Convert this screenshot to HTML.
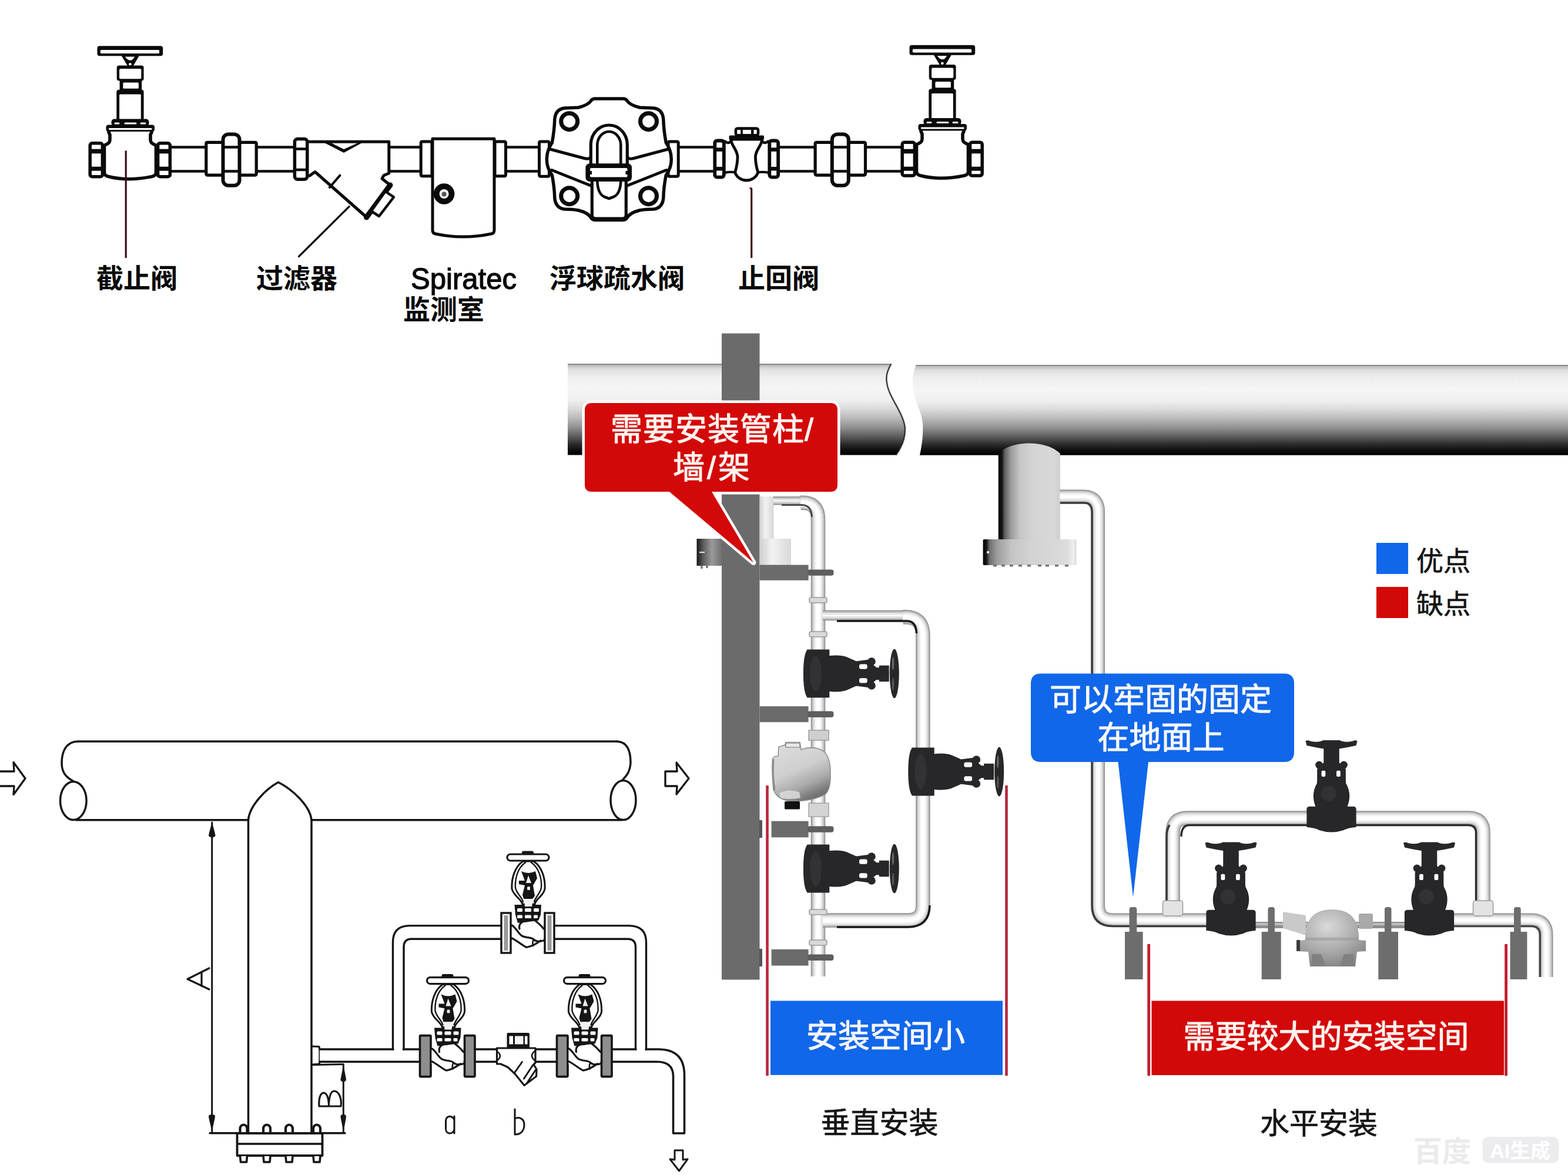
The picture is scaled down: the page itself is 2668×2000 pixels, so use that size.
<!DOCTYPE html>
<html><head><meta charset="utf-8"><title>diagram</title>
<style>
html,body{margin:0;padding:0;background:#fff;}
body{width:2668px;height:2000px;overflow:hidden;font-family:"Liberation Sans",sans-serif;}
svg{display:block;}
</style></head><body>
<svg width="2668" height="2000" viewBox="0 0 2668 2000">
<defs>
<linearGradient id="gBig" x1="0" y1="0" x2="0" y2="1">
<stop offset="0" stop-color="#5a5a5a"/><stop offset="0.015" stop-color="#bdbdbd"/><stop offset="0.06" stop-color="#e0e0e0"/><stop offset="0.14" stop-color="#eeeeee"/><stop offset="0.27" stop-color="#f5f5f5"/><stop offset="0.40" stop-color="#efefef"/><stop offset="0.50" stop-color="#d8d8d8"/><stop offset="0.60" stop-color="#b8b8b8"/><stop offset="0.70" stop-color="#8f8f8f"/><stop offset="0.80" stop-color="#5a5a5a"/><stop offset="0.88" stop-color="#2c2c2c"/><stop offset="0.95" stop-color="#0c0c0c"/><stop offset="1" stop-color="#000"/>
</linearGradient>
<linearGradient id="gV" x1="0" y1="0" x2="1" y2="0">
<stop offset="0" stop-color="#b9b9b9"/><stop offset="0.25" stop-color="#f4f4f4"/><stop offset="0.55" stop-color="#ffffff"/><stop offset="0.8" stop-color="#d0d0d0"/><stop offset="1" stop-color="#8c8c8c"/>
</linearGradient>
<linearGradient id="gH" x1="0" y1="0" x2="0" y2="1">
<stop offset="0" stop-color="#c4c4c4"/><stop offset="0.25" stop-color="#f6f6f6"/><stop offset="0.5" stop-color="#ffffff"/><stop offset="0.75" stop-color="#cfcfcf"/><stop offset="1" stop-color="#6e6e6e"/>
</linearGradient>
<linearGradient id="gLeg" x1="0" y1="0" x2="1" y2="0">
<stop offset="0" stop-color="#000"/><stop offset="0.06" stop-color="#161616"/><stop offset="0.1" stop-color="#5e5e5e"/><stop offset="0.2" stop-color="#9a9a9a"/><stop offset="0.35" stop-color="#c6c6c6"/><stop offset="0.55" stop-color="#d4d4d4"/><stop offset="0.9" stop-color="#d8d8d8"/><stop offset="1" stop-color="#cfcfcf"/>
</linearGradient>
<linearGradient id="gFl" x1="0" y1="0" x2="1" y2="0">
<stop offset="0" stop-color="#000"/><stop offset="0.04" stop-color="#1a1a1a"/><stop offset="0.07" stop-color="#6e6e6e"/><stop offset="0.15" stop-color="#9c9c9c"/><stop offset="0.3" stop-color="#c4c4c4"/><stop offset="0.5" stop-color="#d2d2d2"/><stop offset="0.9" stop-color="#dcdcdc"/><stop offset="0.97" stop-color="#efefef"/><stop offset="1" stop-color="#d8d8d8"/>
</linearGradient>
<linearGradient id="gPocket" x1="0" y1="0" x2="1" y2="0">
<stop offset="0" stop-color="#cfcfcf"/><stop offset="0.4" stop-color="#f2f2f2"/><stop offset="1" stop-color="#d8d8d8"/>
</linearGradient>
<linearGradient id="gCollar" x1="0" y1="0" x2="1" y2="0">
<stop offset="0" stop-color="#161616"/><stop offset="0.25" stop-color="#5a5a5a"/><stop offset="0.6" stop-color="#9a9a9a"/><stop offset="1" stop-color="#6f6f6f"/>
</linearGradient>
<radialGradient id="gTrap" cx="0.55" cy="0.4" r="0.7">
<stop offset="0" stop-color="#f0f0f0"/><stop offset="0.6" stop-color="#c9c9c9"/><stop offset="1" stop-color="#8e8e8e"/>
</radialGradient>
<linearGradient id="gTrapV" x1="0.25" y1="0" x2="0.7" y2="1">
<stop offset="0" stop-color="#dcdcdc"/><stop offset="0.45" stop-color="#cfcfcf"/><stop offset="0.72" stop-color="#a9a9a9"/><stop offset="0.9" stop-color="#7b7b7b"/><stop offset="1" stop-color="#6a6a6a"/>
</linearGradient>
<radialGradient id="gTrap2" cx="0.45" cy="0.3" r="0.8">
<stop offset="0" stop-color="#dadada"/><stop offset="0.6" stop-color="#a4a4a4"/><stop offset="1" stop-color="#7c7c7c"/>
</radialGradient>
<filter id="soft" x="-5%" y="-5%" width="110%" height="110%"><feGaussianBlur stdDeviation="0.7"/></filter>
<filter id="soft2" x="-5%" y="-5%" width="110%" height="110%"><feGaussianBlur stdDeviation="1.2"/></filter>
</defs>
<rect width="2668" height="2000" fill="#fff"/>
<g id="top">
<line x1="290.0" y1="250.5" x2="350.0" y2="250.5" stroke="#0a0a0a" stroke-width="4.6" stroke-linecap="butt"/>
<line x1="290.0" y1="291.5" x2="350.0" y2="291.5" stroke="#0a0a0a" stroke-width="4.6" stroke-linecap="butt"/>
<line x1="436.0" y1="250.5" x2="501.0" y2="250.5" stroke="#0a0a0a" stroke-width="4.6" stroke-linecap="butt"/>
<line x1="436.0" y1="291.5" x2="501.0" y2="291.5" stroke="#0a0a0a" stroke-width="4.6" stroke-linecap="butt"/>
<line x1="660.0" y1="250.5" x2="716.0" y2="250.5" stroke="#0a0a0a" stroke-width="4.6" stroke-linecap="butt"/>
<line x1="660.0" y1="291.5" x2="716.0" y2="291.5" stroke="#0a0a0a" stroke-width="4.6" stroke-linecap="butt"/>
<line x1="861.0" y1="250.5" x2="917.0" y2="250.5" stroke="#0a0a0a" stroke-width="4.6" stroke-linecap="butt"/>
<line x1="861.0" y1="291.5" x2="917.0" y2="291.5" stroke="#0a0a0a" stroke-width="4.6" stroke-linecap="butt"/>
<line x1="1155.0" y1="250.5" x2="1216.0" y2="250.5" stroke="#0a0a0a" stroke-width="4.6" stroke-linecap="butt"/>
<line x1="1155.0" y1="291.5" x2="1216.0" y2="291.5" stroke="#0a0a0a" stroke-width="4.6" stroke-linecap="butt"/>
<line x1="1325.0" y1="250.5" x2="1388.0" y2="250.5" stroke="#0a0a0a" stroke-width="4.6" stroke-linecap="butt"/>
<line x1="1325.0" y1="291.5" x2="1388.0" y2="291.5" stroke="#0a0a0a" stroke-width="4.6" stroke-linecap="butt"/>
<line x1="1472.0" y1="250.5" x2="1535.0" y2="250.5" stroke="#0a0a0a" stroke-width="4.6" stroke-linecap="butt"/>
<line x1="1472.0" y1="291.5" x2="1535.0" y2="291.5" stroke="#0a0a0a" stroke-width="4.6" stroke-linecap="butt"/>
<rect x="165.5" y="78.3" width="111.7" height="16.9" rx="4" fill="#0a0a0a"/>
<rect x="170.8" y="85.1" width="100.3" height="5.8" rx="1.5" fill="#fff"/>
<path d="M206.5,94.5 L237.1,94.5 L226.5,112.5 L217.3,112.5 Z" fill="#0a0a0a"/>
<path d="M212.7,96.6 L229.2,96.6 Q226.5,101 224.1,102.6 L219.5,102.6 Q215.5,101 212.7,96.6 Z" fill="#fff"/>
<circle cx="221.4" cy="109.2" r="2.3" fill="#fff"/>
<rect x="198.7" y="111.6" width="45.9" height="25.8" rx="4" fill="#0a0a0a"/>
<rect x="203.1" y="117.0" width="37.2" height="17.3" rx="2" fill="#fff"/>
<rect x="203.6" y="136.0" width="37.6" height="24.6" rx="1" fill="#0a0a0a"/>
<rect x="209.4" y="140.6" width="26.5" height="10.1" rx="1.5" fill="#fff"/>
<rect x="198.3" y="152.7" width="46.3" height="52.3" rx="4" fill="#0a0a0a"/>
<rect x="203.1" y="160.4" width="36.7" height="43.4" rx="1.5" fill="#fff"/>
<rect x="189.5" y="202.5" width="64.0" height="12.0" rx="5" fill="#0a0a0a"/>
<rect x="194.5" y="208.6" width="9.0" height="3.0" rx="1.5" fill="#fff"/>
<rect x="211.5" y="208.6" width="21.0" height="3.0" rx="1.5" fill="#fff"/>
<rect x="238.5" y="208.6" width="10.0" height="3.0" rx="1.5" fill="#fff"/>
<rect x="180.5" y="212.5" width="82.5" height="11.5" rx="4" fill="#0a0a0a"/>
<rect x="185.0" y="218.0" width="73.5" height="3.0" rx="1" fill="#fff"/>
<path d="M185.0,225 L187.0,229.5 L187.0,238 C187.0,244.5 181.5,245 177.5,247.5 L177.5,294 Q178.0,299 184.5,300.5 Q217.5,309 258.5,300.5 Q265.0,299 265.5,294 L265.5,247.5 C261.5,245 256.0,244.5 256.0,238 L256.0,229.5 L258.0,225" fill="#fff" stroke="#0a0a0a" stroke-width="5.6" stroke-linejoin="round" stroke-linecap="round" />
<rect x="153.2" y="243.8" width="21.2" height="56.9" rx="3.5" fill="#fff" stroke="#0a0a0a" stroke-width="5.5"/>
<line x1="153.5" y1="257.5" x2="174.2" y2="257.5" stroke="#0a0a0a" stroke-width="7.6" stroke-linecap="butt"/>
<line x1="153.5" y1="287.2" x2="174.2" y2="287.2" stroke="#0a0a0a" stroke-width="7" stroke-linecap="butt"/>
<rect x="268.6" y="243.8" width="20.7" height="56.9" rx="3.5" fill="#fff" stroke="#0a0a0a" stroke-width="5.5"/>
<line x1="268.8" y1="257.5" x2="289.0" y2="257.5" stroke="#0a0a0a" stroke-width="7.6" stroke-linecap="butt"/>
<line x1="268.8" y1="287.2" x2="289.0" y2="287.2" stroke="#0a0a0a" stroke-width="7" stroke-linecap="butt"/>
<rect x="1547.5" y="76.8" width="111.7" height="16.9" rx="4" fill="#0a0a0a"/>
<rect x="1552.8" y="83.6" width="100.3" height="5.8" rx="1.5" fill="#fff"/>
<path d="M1588.5,93.0 L1619.1,93.0 L1608.5,111.0 L1599.3,111.0 Z" fill="#0a0a0a"/>
<path d="M1594.7,95.1 L1611.2,95.1 Q1608.5,99.5 1606.1,101.1 L1601.5,101.1 Q1597.5,99.5 1594.7,95.1 Z" fill="#fff"/>
<circle cx="1603.4" cy="107.7" r="2.3" fill="#fff"/>
<rect x="1580.7" y="110.1" width="45.9" height="25.8" rx="4" fill="#0a0a0a"/>
<rect x="1585.1" y="115.5" width="37.2" height="17.3" rx="2" fill="#fff"/>
<rect x="1585.6" y="134.5" width="37.6" height="24.6" rx="1" fill="#0a0a0a"/>
<rect x="1591.4" y="139.1" width="26.5" height="10.1" rx="1.5" fill="#fff"/>
<rect x="1580.3" y="151.2" width="46.3" height="52.3" rx="4" fill="#0a0a0a"/>
<rect x="1585.1" y="158.9" width="36.7" height="43.4" rx="1.5" fill="#fff"/>
<rect x="1571.5" y="201.0" width="64.0" height="12.0" rx="5" fill="#0a0a0a"/>
<rect x="1576.5" y="207.1" width="9.0" height="3.0" rx="1.5" fill="#fff"/>
<rect x="1593.5" y="207.1" width="21.0" height="3.0" rx="1.5" fill="#fff"/>
<rect x="1620.5" y="207.1" width="10.0" height="3.0" rx="1.5" fill="#fff"/>
<rect x="1562.5" y="211.0" width="82.5" height="11.5" rx="4" fill="#0a0a0a"/>
<rect x="1567.0" y="216.5" width="73.5" height="3.0" rx="1" fill="#fff"/>
<path d="M1567.0,223.5 L1569.0,228.0 L1569.0,236.5 C1569.0,243.0 1563.5,243.5 1559.5,246.0 L1559.5,292.5 Q1560.0,297.5 1566.5,299.0 Q1599.5,307.5 1640.5,299.0 Q1647.0,297.5 1647.5,292.5 L1647.5,246.0 C1643.5,243.5 1638.0,243.0 1638.0,236.5 L1638.0,228.0 L1640.0,223.5" fill="#fff" stroke="#0a0a0a" stroke-width="5.6" stroke-linejoin="round" stroke-linecap="round" />
<rect x="1535.2" y="242.2" width="21.2" height="56.9" rx="3.5" fill="#fff" stroke="#0a0a0a" stroke-width="5.5"/>
<line x1="1535.5" y1="257.5" x2="1556.2" y2="257.5" stroke="#0a0a0a" stroke-width="7.6" stroke-linecap="butt"/>
<line x1="1535.5" y1="287.2" x2="1556.2" y2="287.2" stroke="#0a0a0a" stroke-width="7" stroke-linecap="butt"/>
<rect x="1650.5" y="242.2" width="20.7" height="56.9" rx="3.5" fill="#fff" stroke="#0a0a0a" stroke-width="5.5"/>
<line x1="1650.8" y1="257.5" x2="1671.0" y2="257.5" stroke="#0a0a0a" stroke-width="7.6" stroke-linecap="butt"/>
<line x1="1650.8" y1="287.2" x2="1671.0" y2="287.2" stroke="#0a0a0a" stroke-width="7" stroke-linecap="butt"/>
<rect x="350.8" y="242.3" width="85.4" height="55.8" rx="2" fill="#fff" stroke="#0a0a0a" stroke-width="5.2"/>
<rect x="379.5" y="228.6" width="28.0" height="87.2" rx="9" fill="#fff" stroke="#0a0a0a" stroke-width="6"/>
<line x1="379.5" y1="250.5" x2="407.5" y2="250.5" stroke="#0a0a0a" stroke-width="4.6" stroke-linecap="butt"/>
<line x1="379.5" y1="291.5" x2="407.5" y2="291.5" stroke="#0a0a0a" stroke-width="4.6" stroke-linecap="butt"/>
<rect x="1387.1" y="242.3" width="85.4" height="55.8" rx="2" fill="#fff" stroke="#0a0a0a" stroke-width="5.2"/>
<rect x="1415.8" y="228.6" width="28.0" height="87.2" rx="9" fill="#fff" stroke="#0a0a0a" stroke-width="6"/>
<line x1="1415.8" y1="250.5" x2="1443.8" y2="250.5" stroke="#0a0a0a" stroke-width="4.6" stroke-linecap="butt"/>
<line x1="1415.8" y1="291.5" x2="1443.8" y2="291.5" stroke="#0a0a0a" stroke-width="4.6" stroke-linecap="butt"/>
<rect x="501.4" y="236.6" width="21.4" height="68.6" rx="5" fill="#fff" stroke="#0a0a0a" stroke-width="5.5"/>
<line x1="501.0" y1="253.5" x2="523.0" y2="253.5" stroke="#0a0a0a" stroke-width="4.5" stroke-linecap="butt"/>
<line x1="501.0" y1="289.0" x2="523.0" y2="289.0" stroke="#0a0a0a" stroke-width="4.5" stroke-linecap="butt"/>
<path d="M525.6,241.2 L661.8,241.2 L661.8,295 L653,298.5 L650,304 L665,316 L624,370 L536,292.5 L527,299" fill="#fff" stroke="#0a0a0a" stroke-width="5" stroke-linejoin="round" stroke-linecap="round" />
<path d="M664,315 L623.5,370" fill="none" stroke="#0a0a0a" stroke-width="9" stroke-linejoin="round" stroke-linecap="round" />
<path d="M657.5,327 L670,335.5 L645,368 L633.5,360.5" fill="#fff" stroke="#0a0a0a" stroke-width="4.5" stroke-linejoin="round" stroke-linecap="round" />
<path d="M549,241.5 L585,260 L619,241.5 L608.5,243.5 L585,254 L564,243.5 Z" fill="#0a0a0a"/>
<line x1="578.4" y1="298.6" x2="560.8" y2="319.0" stroke="#0a0a0a" stroke-width="4" stroke-linecap="round"/>
<line x1="594.2" y1="351.5" x2="508.5" y2="436.5" stroke="#161012" stroke-width="3.2" stroke-linecap="round"/>
<rect x="716.2" y="240.9" width="18.8" height="58.9" rx="2" fill="#fff" stroke="#0a0a0a" stroke-width="5"/>
<rect x="842.0" y="240.9" width="18.5" height="58.9" rx="2" fill="#fff" stroke="#0a0a0a" stroke-width="5"/>
<path d="M736,236.3 L841,236.3 L841,392 Q841,397 836,398 Q788,408 741,398 Q736,397 736,392 Z" fill="#fff" stroke="#0a0a0a" stroke-width="5" stroke-linejoin="round" stroke-linecap="round" />
<circle cx="755.6" cy="330" r="17.8" fill="#0a0a0a"/><circle cx="755.6" cy="330" r="8" fill="#f4f4f4"/><circle cx="755.6" cy="330.5" r="4" fill="#555"/>
<rect x="917.5" y="241.0" width="17.0" height="59.3" rx="2" fill="#fff" stroke="#0a0a0a" stroke-width="5"/>
<rect x="1137.0" y="241.0" width="17.2" height="59.3" rx="2" fill="#fff" stroke="#0a0a0a" stroke-width="5"/>
<path d="M1012.3,168 L1060.3,168 Q1065.3,168 1067.3,172 Q1072.3,179 1088.3,183 Q1100.3,183.5 1112.3,184 Q1127.3,186 1128.8,203 Q1129.3,222 1133.3,243 Q1142.3,256 1142.3,271 Q1142.3,286 1133.3,298 Q1129.3,318 1128.8,337 Q1127.3,354 1112.3,356 Q1098.3,356 1088.3,358 Q1072.3,362 1067.3,370 Q1065.3,374.5 1060.3,374.5 L1012.3,374.5 Q1007.3,374.5 1005.3,370 Q1000.3,362 984.3,358 Q974.3,356 960.3,356 Q945.3,354 943.8,337 Q943.3,318 939.3,298 Q930.3,286 930.3,271 Q930.3,256 939.3,243 Q943.3,222 943.8,203 Q945.3,186 960.3,184 Q972.3,183.5 984.3,183 Q1000.3,179 1005.3,172 Q1007.3,168 1012.3,168 Z" fill="#fff" stroke="#0a0a0a" stroke-width="5.5" stroke-linejoin="round" stroke-linecap="round" />
<path d="M936.3,254 L994.3,269.5 Q1004.3,272 1005.3,266" fill="none" stroke="#0a0a0a" stroke-width="5" stroke-linejoin="round" stroke-linecap="round" />
<path d="M938.8,289.5 L1005.3,316" fill="none" stroke="#0a0a0a" stroke-width="5" stroke-linejoin="round" stroke-linecap="round" />
<path d="M1136.3,254 L1078.3,269.5 Q1068.3,272 1067.3,266" fill="none" stroke="#0a0a0a" stroke-width="5" stroke-linejoin="round" stroke-linecap="round" />
<path d="M1133.8,289.5 L1067.3,316" fill="none" stroke="#0a0a0a" stroke-width="5" stroke-linejoin="round" stroke-linecap="round" />
<circle cx="968.7" cy="206.7" r="14" fill="#fff" stroke="#0a0a0a" stroke-width="7"/>
<circle cx="1103.5" cy="206.7" r="14" fill="#fff" stroke="#0a0a0a" stroke-width="7"/>
<circle cx="968.7" cy="333.7" r="14" fill="#fff" stroke="#0a0a0a" stroke-width="7"/>
<circle cx="1103.5" cy="333.7" r="14" fill="#fff" stroke="#0a0a0a" stroke-width="7"/>
<path d="M1005.3,279 L1005.3,246 A31,33 0 0 1 1067.3,246 L1067.3,279" fill="#fff" stroke="#0a0a0a" stroke-width="5.2" stroke-linejoin="round" stroke-linecap="round" />
<path d="M1016.3,279 L1016.3,247 A20,23 0 0 1 1056.3,247 L1056.3,279" fill="#fff" stroke="#0a0a0a" stroke-width="4.6" stroke-linejoin="round" stroke-linecap="round" />
<path d="M1007.3,306 L1007.3,366 Q1007.3,372 1013.3,372 L1059.3,372 Q1065.3,372 1065.3,366 L1065.3,306" fill="#fff" stroke="#0a0a0a" stroke-width="5.2" stroke-linejoin="round" stroke-linecap="round" />
<path d="M1016.3,309 Q1017.3,330 1028.3,335 L1036.3,338 L1044.3,335 Q1055.3,330 1056.3,309" fill="none" stroke="#0a0a0a" stroke-width="4.6" stroke-linejoin="round" stroke-linecap="round" />
<rect x="999.4" y="281.3" width="72.6" height="24.7" rx="4" fill="#fff" stroke="#0a0a0a" stroke-width="6"/>
<rect x="1002.8" y="284.8" width="66.0" height="18.0" rx="3" fill="#fff" stroke="#0a0a0a" stroke-width="2.5"/>
<rect x="1002.0" y="291.0" width="5.0" height="6.0" rx="0" fill="#0a0a0a"/>
<rect x="1064.5" y="291.0" width="5.0" height="6.0" rx="0" fill="#0a0a0a"/>
<rect x="1216.3" y="239.5" width="15.5" height="62.2" rx="4" fill="#fff" stroke="#0a0a0a" stroke-width="5.8"/>
<line x1="1216.4" y1="254.6" x2="1231.7" y2="254.6" stroke="#0a0a0a" stroke-width="6.5" stroke-linecap="butt"/>
<line x1="1216.4" y1="287.2" x2="1231.7" y2="287.2" stroke="#0a0a0a" stroke-width="6.5" stroke-linecap="butt"/>
<rect x="1309.3" y="239.5" width="14.8" height="62.2" rx="4" fill="#fff" stroke="#0a0a0a" stroke-width="5.8"/>
<line x1="1309.4" y1="254.6" x2="1324.0" y2="254.6" stroke="#0a0a0a" stroke-width="6.5" stroke-linecap="butt"/>
<line x1="1309.4" y1="287.2" x2="1324.0" y2="287.2" stroke="#0a0a0a" stroke-width="6.5" stroke-linecap="butt"/>
<path d="M1243.4,237 C1245.2,250 1255.2,255 1255.0,268 C1254.8,280 1252.2,288 1250.7,293.4 C1253.2,302 1262.2,307 1270.2,307 C1278.2,307 1287.2,302 1289.7,293.4 C1288.2,288 1285.6000000000001,280 1285.4,268 C1285.2,255 1295.2,250 1297.0,237 Z" fill="#fff" stroke="#0a0a0a" stroke-width="4.8" stroke-linejoin="round" stroke-linecap="round" />
<path d="M1233.5,240.5 Q1238,245.5 1244.5,240.5" fill="none" stroke="#0a0a0a" stroke-width="4.4" stroke-linejoin="round" stroke-linecap="round" />
<path d="M1307,240.5 Q1302.5,245.5 1296,240.5" fill="none" stroke="#0a0a0a" stroke-width="4.4" stroke-linejoin="round" stroke-linecap="round" />
<path d="M1234.7,293.6 Q1243,292 1250.7,293.4" fill="none" stroke="#0a0a0a" stroke-width="4.2" stroke-linejoin="round" stroke-linecap="round" />
<path d="M1306.4,293.6 Q1298,292 1289.7,293.4" fill="none" stroke="#0a0a0a" stroke-width="4.2" stroke-linejoin="round" stroke-linecap="round" />
<rect x="1240.5" y="230.6" width="59.5" height="6.9" rx="2" fill="#0a0a0a"/>
<rect x="1251.9" y="218.6" width="38.1" height="11.6" rx="3" fill="#fff" stroke="#0a0a0a" stroke-width="4.6"/>
<rect x="1260.2" y="219.0" width="3.6" height="12.0" rx="0" fill="#0a0a0a"/>
<rect x="1278.0" y="219.0" width="4.5" height="12.0" rx="0" fill="#0a0a0a"/>
<line x1="214.2" y1="256.5" x2="214.2" y2="439.0" stroke="#3a0d18" stroke-width="3.2" stroke-linecap="butt"/>
<line x1="1278.7" y1="321.0" x2="1278.7" y2="439.0" stroke="#3a0d18" stroke-width="3.2" stroke-linecap="butt"/>
<line x1="1275.5" y1="320.5" x2="1279.5" y2="320.5" stroke="#3a0d18" stroke-width="2.5" stroke-linecap="butt"/>
<text x="164" y="490" font-family="Liberation Sans, Noto Sans CJK SC, sans-serif" font-size="46" font-weight="700" fill="#0a0a0a">截止阀</text>
<text x="436" y="490" font-family="Liberation Sans, Noto Sans CJK SC, sans-serif" font-size="46" font-weight="700" fill="#0a0a0a">过滤器</text>
<text x="935" y="490" font-family="Liberation Sans, Noto Sans CJK SC, sans-serif" font-size="46" font-weight="700" fill="#0a0a0a">浮球疏水阀</text>
<text x="1256" y="490" font-family="Liberation Sans, Noto Sans CJK SC, sans-serif" font-size="46" font-weight="700" fill="#0a0a0a">止回阀</text>
<text x="686" y="543" font-family="Liberation Sans, Noto Sans CJK SC, sans-serif" font-size="46" font-weight="700" fill="#0a0a0a">监测室</text>
<text x="699" y="492.4" font-family="Liberation Sans, sans-serif" font-size="50" font-weight="400" fill="#0a0a0a" stroke="#0a0a0a" stroke-width="1.3" textLength="180" lengthAdjust="spacingAndGlyphs">Spiratec</text>
</g>
<g id="botleft">
<path d="M133,1262 L1050,1262" fill="none" stroke="#151515" stroke-width="3.5" stroke-linejoin="round" stroke-linecap="round" />
<path d="M133,1262 C112,1262 105,1280 105,1299 C105,1318 116,1325 127,1331" fill="none" stroke="#151515" stroke-width="3.5" stroke-linejoin="round" stroke-linecap="round" />
<ellipse cx="124.8" cy="1363" rx="22.3" ry="32.5" fill="#fff" stroke="#151515" stroke-width="3.5"/>
<path d="M129,1395.8 L422.5,1395.8" fill="none" stroke="#151515" stroke-width="3.5" stroke-linejoin="round" stroke-linecap="round" />
<path d="M530,1395.8 L1058,1395.8" fill="none" stroke="#151515" stroke-width="3.5" stroke-linejoin="round" stroke-linecap="round" />
<path d="M1050,1262 C1068,1263 1073,1280 1073,1298 C1072,1316 1064,1322 1058,1329" fill="none" stroke="#151515" stroke-width="3.5" stroke-linejoin="round" stroke-linecap="round" />
<ellipse cx="1060.5" cy="1362" rx="21.5" ry="33.5" fill="#fff" stroke="#151515" stroke-width="3.5"/>
<path d="M422.5,1928 L422.5,1396 C424,1372 452,1343 473.5,1331.5 C497,1343 528,1372 530,1396 L530,1928" fill="#fff" stroke="#151515" stroke-width="3.5" stroke-linejoin="round" stroke-linecap="round" />
<path d="M-4,1313 L24,1313 L23,1297.5 L43,1325 L23,1352.5 L24,1338 L-4,1338" fill="none" stroke="#151515" stroke-width="3.3" stroke-linejoin="round" stroke-linecap="round" />
<path d="M1132,1313 L1152,1313 L1151,1298 L1172,1325 L1151,1352 L1152,1338 L1132,1338 Z" fill="none" stroke="#151515" stroke-width="3.3" stroke-linejoin="round" stroke-linecap="round" />
<path d="M1148,1958 L1162,1958 L1162,1974 L1170,1973 L1155.5,1993 L1140,1973 L1148,1974 Z" fill="none" stroke="#151515" stroke-width="3" stroke-linejoin="round" stroke-linecap="round" />
<path d="M360.7,1400 L360.7,1927" fill="none" stroke="#151515" stroke-width="3" stroke-linejoin="round" stroke-linecap="round" />
<path d="M360.7,1398 C362.5,1408 366.5,1418 366.5,1423 Q361,1428 355,1423 C355,1418 359,1408 360.7,1398 Z" fill="#151515"/>
<path d="M360.7,1928 C362,1916 366,1905 366,1899 Q361,1894 355,1899 C355,1905 359,1916 360.7,1928 Z" fill="#151515"/>
<path d="M356,1648 L319,1666.5 L356,1684 M343,1654.5 L343,1678.5" fill="none" stroke="#151515" stroke-width="3.2" stroke-linejoin="round" stroke-linecap="round" />
<path d="M357,1928.8 L587,1928.8" fill="none" stroke="#151515" stroke-width="3.4" stroke-linejoin="round" stroke-linecap="round" />
<path d="M403.5,1929 L548.5,1929 L548.5,1967 L403.5,1967 Z" fill="#fff" stroke="#151515" stroke-width="3.8" stroke-linejoin="round" stroke-linecap="round" />
<path d="M403.5,1947 L548.5,1947" fill="none" stroke="#151515" stroke-width="3.4" stroke-linejoin="round" stroke-linecap="round" />
<path d="M408.5,1927 L408.5,1921 A6,6.5 0 0 1 420.5,1921 L420.5,1927" fill="#fff" stroke="#151515" stroke-width="4.2" stroke-linejoin="round" stroke-linecap="round" />
<path d="M408.5,1968 L409.5,1978 L419.5,1978 L420.5,1968" fill="#fff" stroke="#151515" stroke-width="3.6" stroke-linejoin="round" stroke-linecap="round" />
<path d="M448,1927 L448,1921 A6,6.5 0 0 1 460,1921 L460,1927" fill="#fff" stroke="#151515" stroke-width="4.2" stroke-linejoin="round" stroke-linecap="round" />
<path d="M448,1968 L449,1978 L459,1978 L460,1968" fill="#fff" stroke="#151515" stroke-width="3.6" stroke-linejoin="round" stroke-linecap="round" />
<path d="M486,1927 L486,1921 A6,6.5 0 0 1 498,1921 L498,1927" fill="#fff" stroke="#151515" stroke-width="4.2" stroke-linejoin="round" stroke-linecap="round" />
<path d="M486,1968 L487,1978 L497,1978 L498,1968" fill="#fff" stroke="#151515" stroke-width="3.6" stroke-linejoin="round" stroke-linecap="round" />
<path d="M533,1927 L533,1921 A6,6.5 0 0 1 545,1921 L545,1927" fill="#fff" stroke="#151515" stroke-width="4.2" stroke-linejoin="round" stroke-linecap="round" />
<path d="M533,1968 L534,1978 L544,1978 L545,1968" fill="#fff" stroke="#151515" stroke-width="3.6" stroke-linejoin="round" stroke-linecap="round" />
<path d="M531.5,1781 L543,1781.5 L544,1786 L544,1808 L543,1811 L531.5,1812" fill="none" stroke="#151515" stroke-width="3.2" stroke-linejoin="round" stroke-linecap="round" />
<path d="M544,1786 L1120,1786 Q1164.5,1786 1164.5,1830 L1164.5,1929 L1145.5,1929 L1145.5,1832 Q1145.5,1807.2 1118,1807.2 L544,1807.2" fill="#fff" stroke="#151515" stroke-width="3.6" stroke-linejoin="round" stroke-linecap="round" />
<path d="M584.3,1812 L584.3,1927" fill="none" stroke="#151515" stroke-width="3" stroke-linejoin="round" stroke-linecap="round" />
<path d="M584.3,1811 C586,1823 589,1834 589,1839 Q584,1844 579.5,1839 C579.5,1834 583,1823 584.3,1811 Z" fill="#151515"/>
<path d="M584.3,1928 C586,1916 589,1905 589,1899 Q584,1894 579.5,1899 C579.5,1905 583,1916 584.3,1928 Z" fill="#151515"/>
<path d="M532,1812.5 L584,1811.5" fill="none" stroke="#151515" stroke-width="3" stroke-linejoin="round" stroke-linecap="round" />
<path d="M543,1883 L580,1883 C582,1868 576,1858 569,1857 C563,1857 560,1866 559.5,1881 M559.5,1881 C559,1869 556,1861 551,1860 C545,1860 542,1870 543,1883" fill="none" stroke="#151515" stroke-width="3.2" stroke-linejoin="round" stroke-linecap="round" />
<path d="M668.5,1786 L668.5,1604 Q668.5,1575.6 697,1575.6 L1070,1575.6 Q1099.5,1575.6 1099.5,1604 L1099.5,1786 L1081.5,1786 L1081.5,1612 Q1081.5,1598.2 1068,1598.2 L700,1598.2 Q687,1598.2 687,1612 L687,1786 Z" fill="#fff" stroke="#151515" stroke-width="3.4" stroke-linejoin="round" stroke-linecap="round" />
<rect x="670.5" y="1783.5" width="14.5" height="5" fill="#fff"/><rect x="1083.5" y="1783.5" width="14" height="5" fill="#fff"/>
<rect x="714.5" y="1762.6" width="18.5" height="70" rx="1.5" fill="#8e8e8e" stroke="#151515" stroke-width="3.6"/>
<rect x="790.5" y="1762.6" width="17.5" height="70" rx="1.5" fill="#8e8e8e" stroke="#151515" stroke-width="3.6"/>
<rect x="734.5" y="1782.6" width="54" height="28" fill="#fff"/>
<path d="M734.5,1784.6 C741.5,1788.6 745.5,1798.6 751.5,1802.6 C759.5,1806.6 767.5,1804.6 771.5,1808.6 C775.5,1812.6 781.5,1812.6 788.5,1810.6" fill="none" stroke="#151515" stroke-width="3.2" stroke-linejoin="round" stroke-linecap="round" />
<path d="M734.5,1806.6 C743.5,1810.6 751.5,1818.6 759.5,1822.1 C767.5,1820.6 775.5,1816.6 783.5,1810.6" fill="none" stroke="#151515" stroke-width="3.2" stroke-linejoin="round" stroke-linecap="round" />
<path d="M747.5,1790.6 C745.5,1782.6 751.5,1776.6 759.5,1777.6 L771.5,1774.6 C779.5,1780.6 785.5,1786.6 788.5,1790.6" fill="#fff" stroke="#151515" stroke-width="3.2" stroke-linejoin="round" stroke-linecap="round" />
<path d="M771.5,1808.6 C769.5,1812.6 769.5,1816.6 770.5,1819.6" fill="none" stroke="#151515" stroke-width="2.6" stroke-linejoin="round" stroke-linecap="round" />
<path d="M739.0,1749.6 L784.5,1749.6 L783.5,1766.6 L779.5,1776.6 L744.5,1780.6 L740.5,1766.6 Z" fill="#151515"/>
<rect x="743.5" y="1755.6" width="9" height="6" rx="1.5" fill="#fff"/>
<rect x="756.5" y="1755.6" width="11" height="6" rx="1.5" fill="#fff"/>
<rect x="771.5" y="1755.6" width="9" height="6" rx="1.5" fill="#fff"/>
<rect x="743.5" y="1767.1" width="9" height="5.5" rx="1.5" fill="#fff"/>
<rect x="756.5" y="1767.1" width="11" height="5.5" rx="1.5" fill="#fff"/>
<rect x="771.5" y="1767.1" width="7" height="5.5" rx="1.5" fill="#fff"/>
<path d="M753.5,1675.6 C739.5,1684.6 733.5,1704.6 734.5,1722.6 C737.5,1734.6 749.5,1738.6 752.5,1748.6 L773.5,1748.6 C775.5,1738.6 788.5,1734.6 790.5,1722.6 C791.5,1704.6 785.5,1684.6 771.5,1675.6 Z" fill="#fff" stroke="#151515" stroke-width="3" stroke-linejoin="round" stroke-linecap="round" />
<path d="M757.5,1677.6 C744.5,1686.6 739.5,1704.6 740.5,1720.6 C742.5,1730.6 751.5,1736.6 753.5,1744.6" fill="none" stroke="#151515" stroke-width="2.4" stroke-linejoin="round" stroke-linecap="round" />
<path d="M767.5,1677.6 C780.5,1686.6 785.5,1704.6 784.5,1720.6 C782.5,1730.6 774.5,1736.6 772.5,1744.6" fill="none" stroke="#151515" stroke-width="2.4" stroke-linejoin="round" stroke-linecap="round" />
<path d="M750.5,1692.6 Q762.5,1698.6 774.5,1692.6 L777.5,1704.6 L770.5,1716.6 L773.5,1734.6 L769.5,1739.6 L754.5,1739.6 L752.5,1732.6 L756.5,1716.6 L746.5,1714.6 L746.5,1708.6 L756.5,1708.6 Z" fill="#151515"/>
<path d="M762.5,1699.6 L767.5,1712.6 L758.5,1712.6 Z" fill="#eee"/>
<rect x="760.5" y="1718.6" width="5" height="6" rx="1.5" fill="#eee"/>
<path d="M755.5,1739.6 L770.5,1739.6 L768.5,1752.6 L756.5,1752.6 Z" fill="#f2f2f2"/>
<rect x="751.5" y="1658.1" width="20" height="7" rx="3" fill="#151515"/>
<rect x="726.5" y="1663.6" width="71" height="11" rx="5.5" fill="#fff" stroke="#151515" stroke-width="3.2"/>
<rect x="947.5" y="1762.6" width="18.5" height="70" rx="1.5" fill="#8e8e8e" stroke="#151515" stroke-width="3.6"/>
<rect x="1023.5" y="1762.6" width="17.5" height="70" rx="1.5" fill="#8e8e8e" stroke="#151515" stroke-width="3.6"/>
<rect x="967.5" y="1782.6" width="54" height="28" fill="#fff"/>
<path d="M967.5,1784.6 C974.5,1788.6 978.5,1798.6 984.5,1802.6 C992.5,1806.6 1000.5,1804.6 1004.5,1808.6 C1008.5,1812.6 1014.5,1812.6 1021.5,1810.6" fill="none" stroke="#151515" stroke-width="3.2" stroke-linejoin="round" stroke-linecap="round" />
<path d="M967.5,1806.6 C976.5,1810.6 984.5,1818.6 992.5,1822.1 C1000.5,1820.6 1008.5,1816.6 1016.5,1810.6" fill="none" stroke="#151515" stroke-width="3.2" stroke-linejoin="round" stroke-linecap="round" />
<path d="M980.5,1790.6 C978.5,1782.6 984.5,1776.6 992.5,1777.6 L1004.5,1774.6 C1012.5,1780.6 1018.5,1786.6 1021.5,1790.6" fill="#fff" stroke="#151515" stroke-width="3.2" stroke-linejoin="round" stroke-linecap="round" />
<path d="M1004.5,1808.6 C1002.5,1812.6 1002.5,1816.6 1003.5,1819.6" fill="none" stroke="#151515" stroke-width="2.6" stroke-linejoin="round" stroke-linecap="round" />
<path d="M972.0,1749.6 L1017.5,1749.6 L1016.5,1766.6 L1012.5,1776.6 L977.5,1780.6 L973.5,1766.6 Z" fill="#151515"/>
<rect x="976.5" y="1755.6" width="9" height="6" rx="1.5" fill="#fff"/>
<rect x="989.5" y="1755.6" width="11" height="6" rx="1.5" fill="#fff"/>
<rect x="1004.5" y="1755.6" width="9" height="6" rx="1.5" fill="#fff"/>
<rect x="976.5" y="1767.1" width="9" height="5.5" rx="1.5" fill="#fff"/>
<rect x="989.5" y="1767.1" width="11" height="5.5" rx="1.5" fill="#fff"/>
<rect x="1004.5" y="1767.1" width="7" height="5.5" rx="1.5" fill="#fff"/>
<path d="M986.5,1675.6 C972.5,1684.6 966.5,1704.6 967.5,1722.6 C970.5,1734.6 982.5,1738.6 985.5,1748.6 L1006.5,1748.6 C1008.5,1738.6 1021.5,1734.6 1023.5,1722.6 C1024.5,1704.6 1018.5,1684.6 1004.5,1675.6 Z" fill="#fff" stroke="#151515" stroke-width="3" stroke-linejoin="round" stroke-linecap="round" />
<path d="M990.5,1677.6 C977.5,1686.6 972.5,1704.6 973.5,1720.6 C975.5,1730.6 984.5,1736.6 986.5,1744.6" fill="none" stroke="#151515" stroke-width="2.4" stroke-linejoin="round" stroke-linecap="round" />
<path d="M1000.5,1677.6 C1013.5,1686.6 1018.5,1704.6 1017.5,1720.6 C1015.5,1730.6 1007.5,1736.6 1005.5,1744.6" fill="none" stroke="#151515" stroke-width="2.4" stroke-linejoin="round" stroke-linecap="round" />
<path d="M983.5,1692.6 Q995.5,1698.6 1007.5,1692.6 L1010.5,1704.6 L1003.5,1716.6 L1006.5,1734.6 L1002.5,1739.6 L987.5,1739.6 L985.5,1732.6 L989.5,1716.6 L979.5,1714.6 L979.5,1708.6 L989.5,1708.6 Z" fill="#151515"/>
<path d="M995.5,1699.6 L1000.5,1712.6 L991.5,1712.6 Z" fill="#eee"/>
<rect x="993.5" y="1718.6" width="5" height="6" rx="1.5" fill="#eee"/>
<path d="M988.5,1739.6 L1003.5,1739.6 L1001.5,1752.6 L989.5,1752.6 Z" fill="#f2f2f2"/>
<rect x="984.5" y="1658.1" width="20" height="7" rx="3" fill="#151515"/>
<rect x="959.5" y="1663.6" width="71" height="11" rx="5.5" fill="#fff" stroke="#151515" stroke-width="3.2"/>
<rect x="853" y="1554" width="16" height="68" fill="#fff" stroke="#151515" stroke-width="3.4"/>
<rect x="857.5" y="1558" width="7" height="60" fill="#9a9a9a"/>
<rect x="927" y="1554" width="16" height="68" fill="#fff" stroke="#151515" stroke-width="3.4"/>
<rect x="931.5" y="1558" width="7" height="60" fill="#9a9a9a"/>
<rect x="871" y="1573" width="54" height="28" fill="#fff"/>
<path d="M871,1575 C878,1579 882,1589 888,1593 C896,1597 904,1595 908,1599 C912,1603 918,1603 925,1601" fill="none" stroke="#151515" stroke-width="3.2" stroke-linejoin="round" stroke-linecap="round" />
<path d="M871,1597 C880,1601 888,1609 896,1612.5 C904,1611 912,1607 920,1601" fill="none" stroke="#151515" stroke-width="3.2" stroke-linejoin="round" stroke-linecap="round" />
<path d="M884,1581 C882,1573 888,1567 896,1568 L908,1565 C916,1571 922,1577 925,1581" fill="#fff" stroke="#151515" stroke-width="3.2" stroke-linejoin="round" stroke-linecap="round" />
<path d="M908,1599 C906,1603 906,1607 907,1610" fill="none" stroke="#151515" stroke-width="2.6" stroke-linejoin="round" stroke-linecap="round" />
<path d="M875.5,1540 L921,1540 L920,1557 L916,1567 L881,1571 L877,1557 Z" fill="#151515"/>
<rect x="880" y="1546" width="9" height="6" rx="1.5" fill="#fff"/>
<rect x="893" y="1546" width="11" height="6" rx="1.5" fill="#fff"/>
<rect x="908" y="1546" width="9" height="6" rx="1.5" fill="#fff"/>
<rect x="880" y="1557.5" width="9" height="5.5" rx="1.5" fill="#fff"/>
<rect x="893" y="1557.5" width="11" height="5.5" rx="1.5" fill="#fff"/>
<rect x="908" y="1557.5" width="7" height="5.5" rx="1.5" fill="#fff"/>
<path d="M890,1466 C876,1475 870,1495 871,1513 C874,1525 886,1529 889,1539 L910,1539 C912,1529 925,1525 927,1513 C928,1495 922,1475 908,1466 Z" fill="#fff" stroke="#151515" stroke-width="3" stroke-linejoin="round" stroke-linecap="round" />
<path d="M894,1468 C881,1477 876,1495 877,1511 C879,1521 888,1527 890,1535" fill="none" stroke="#151515" stroke-width="2.4" stroke-linejoin="round" stroke-linecap="round" />
<path d="M904,1468 C917,1477 922,1495 921,1511 C919,1521 911,1527 909,1535" fill="none" stroke="#151515" stroke-width="2.4" stroke-linejoin="round" stroke-linecap="round" />
<path d="M887,1483 Q899,1489 911,1483 L914,1495 L907,1507 L910,1525 L906,1530 L891,1530 L889,1523 L893,1507 L883,1505 L883,1499 L893,1499 Z" fill="#151515"/>
<path d="M899,1490 L904,1503 L895,1503 Z" fill="#eee"/>
<rect x="897" y="1509" width="5" height="6" rx="1.5" fill="#eee"/>
<path d="M892,1530 L907,1530 L905,1543 L893,1543 Z" fill="#f2f2f2"/>
<rect x="888" y="1448.5" width="20" height="7" rx="3" fill="#151515"/>
<rect x="863" y="1454" width="71" height="11" rx="5.5" fill="#fff" stroke="#151515" stroke-width="3.2"/>
<rect x="844" y="1783" width="68" height="27.200000000000045" fill="#fff"/>
<path d="M845.5,1784 L911,1784 L911,1809 L908,1812 L913,1820 L912.6,1832 L892,1847.5 L876.4,1828 L864,1816.5 L852,1811 L845.5,1811 Z" fill="#fff" stroke="#151515" stroke-width="3.2" stroke-linejoin="round" stroke-linecap="round" />
<path d="M875.5,1826 L888.4,1807.5" fill="none" stroke="#151515" stroke-width="3" stroke-linejoin="round" stroke-linecap="round" />
<path d="M891.5,1836 L907,1812.5" fill="none" stroke="#151515" stroke-width="3" stroke-linejoin="round" stroke-linecap="round" />
<path d="M897,1843 L911.5,1821" fill="none" stroke="#151515" stroke-width="3" stroke-linejoin="round" stroke-linecap="round" />
<path d="M846,1790 Q856,1797 846,1805" fill="none" stroke="#151515" stroke-width="2.6" stroke-linejoin="round" stroke-linecap="round" />
<path d="M910,1789 Q900,1797 910,1805" fill="none" stroke="#151515" stroke-width="2.6" stroke-linejoin="round" stroke-linecap="round" />
<rect x="862.5" y="1758" width="38.5" height="26" rx="2" fill="#151515"/>
<rect x="866.5" y="1763.5" width="6.5" height="14" fill="#fff"/><rect x="876" y="1763.5" width="14.5" height="14" fill="#f4f4f4"/><rect x="893" y="1763.5" width="4.5" height="14" fill="#fff"/>
<path d="M773,1900 L773,1929 M773,1906 C768,1897 758,1899 758.5,1910 L758.5,1920 C758,1931 769,1932 773,1923" fill="none" stroke="#151515" stroke-width="3" stroke-linejoin="round" stroke-linecap="round" />
<path d="M876,1888 L876,1931 M876,1904 C884,1900 892,1905 892,1914 C892,1925 886,1931 876,1931" fill="none" stroke="#151515" stroke-width="3" stroke-linejoin="round" stroke-linecap="round" />
</g>
<g id="right">
<path d="M966,619.3 L1516.4,619.3 C1510,630 1507,640 1508.8,650 C1511,675 1536,700 1539.8,727 C1541,745 1535,760 1524.6,774.4 L966,774.4 Z" fill="url(#gBig)"/>
<path d="M1516.4,619.3 C1510,630 1507,640 1508.8,650 C1511,675 1536,700 1539.8,727 C1541,745 1535,760 1524.6,774.4" fill="none" stroke="#222" stroke-width="2.6" opacity="0.85"/>
<path d="M1558.8,621.3 L2668,621.3 L2668,774.8 L1565,774.8 C1568,760 1571,745 1570.2,723 C1569,700 1556,685 1553.5,658 C1552,645 1554,632 1558.8,621.3 Z" fill="url(#gBig)"/>
<path d="M1698.8,776 L1698.8,772 C1712,758 1735,754.5 1752,754.5 C1770,754.5 1792,760 1803.9,772 L1803.9,921 L1698.8,921 Z" fill="url(#gLeg)"/>
<rect x="1672.6" y="918" width="159" height="44" rx="2" fill="url(#gFl)"/>
<circle cx="1681" cy="940" r="2.2" fill="#eee"/>
<rect x="1690" y="961" width="6" height="3.5" fill="#777"/>
<rect x="1704" y="961" width="6" height="3.5" fill="#777"/>
<rect x="1718" y="961" width="6" height="3.5" fill="#777"/>
<rect x="1733" y="961" width="6" height="3.5" fill="#777"/>
<rect x="1748" y="961" width="6" height="3.5" fill="#777"/>
<rect x="1766" y="961" width="6" height="3.5" fill="#777"/>
<rect x="1779" y="961" width="6" height="3.5" fill="#777"/>
<rect x="1795" y="961" width="6" height="3.5" fill="#777"/>
<rect x="1812" y="961" width="6" height="3.5" fill="#777"/>
<path d="M1803,845 L1843,845 Q1868.5,845 1868.5,871 L1868.5,1541 Q1868.5,1566 1894,1566 L2060,1566" fill="none" stroke="#8d8d8d" stroke-width="23.0" stroke-linejoin="round" stroke-linecap="butt"/>
<path d="M1803,845 L1843,845 Q1868.5,845 1868.5,871 L1868.5,1541 Q1868.5,1566 1894,1566 L2060,1566" fill="none" stroke="#bdbdbd" stroke-width="20.0" stroke-linejoin="round" stroke-linecap="butt"/>
<path d="M1803,845 L1843,845 Q1868.5,845 1868.5,871 L1868.5,1541 Q1868.5,1566 1894,1566 L2060,1566" fill="none" stroke="#e2e2e2" stroke-width="15.0" stroke-linejoin="round" stroke-linecap="butt"/>
<path d="M1803,845 L1843,845 Q1868.5,845 1868.5,871 L1868.5,1541 Q1868.5,1566 1894,1566 L2060,1566" fill="none" stroke="#f7f7f7" stroke-width="9.0" stroke-linejoin="round" stroke-linecap="butt"/>
<path d="M1803,845 L1843,845 Q1868.5,845 1868.5,871 L1868.5,1541 Q1868.5,1566 1894,1566 L2060,1566" fill="none" stroke="#ffffff" stroke-width="4.0" stroke-linejoin="round" stroke-linecap="butt"/>
<path d="M2470,1566 L2606,1566 Q2631,1566 2631,1591 L2631,1663" fill="none" stroke="#8d8d8d" stroke-width="23.0" stroke-linejoin="round" stroke-linecap="butt"/>
<path d="M2470,1566 L2606,1566 Q2631,1566 2631,1591 L2631,1663" fill="none" stroke="#bdbdbd" stroke-width="20.0" stroke-linejoin="round" stroke-linecap="butt"/>
<path d="M2470,1566 L2606,1566 Q2631,1566 2631,1591 L2631,1663" fill="none" stroke="#e2e2e2" stroke-width="15.0" stroke-linejoin="round" stroke-linecap="butt"/>
<path d="M2470,1566 L2606,1566 Q2631,1566 2631,1591 L2631,1663" fill="none" stroke="#f7f7f7" stroke-width="9.0" stroke-linejoin="round" stroke-linecap="butt"/>
<path d="M2470,1566 L2606,1566 Q2631,1566 2631,1591 L2631,1663" fill="none" stroke="#ffffff" stroke-width="4.0" stroke-linejoin="round" stroke-linecap="butt"/>
<rect x="2130" y="1569" width="265" height="11" fill="#8e8e8e"/><rect x="2130" y="1571" width="265" height="4" fill="#bdbdbd"/>
<path d="M1804,856 L1846,856 Q1858,856.5 1858,872 L1858,1541 Q1858,1576.5 1894,1576.5 L2056,1576.5" fill="none" stroke="#3a3a3a" stroke-width="3.6" filter="url(#soft)"/>
<path d="M2472,1576.5 L2606,1576.5 Q2620,1577 2620.3,1591 L2620.3,1663" fill="none" stroke="#444" stroke-width="3.6" filter="url(#soft)"/>
<rect x="1228" y="567.5" width="64.5" height="1100" fill="#6b6b6b"/>
<rect x="1185.5" y="917" width="43" height="46" fill="url(#gCollar)"/>
<rect x="1190" y="939" width="9" height="2.2" fill="#ddd"/>
<rect x="1192" y="963" width="4" height="5" fill="#888"/><rect x="1201" y="963" width="4" height="4" fill="#888"/>
<rect x="1292.5" y="845" width="24" height="75" fill="url(#gPocket)"/>
<rect x="1292.5" y="917" width="53.5" height="45" fill="url(#gPocket)"/>
<path d="M1316,852.2 L1372,852.2" fill="none" stroke="#8d8d8d" stroke-width="14.5" stroke-linejoin="round" stroke-linecap="butt"/>
<path d="M1316,852.2 L1372,852.2" fill="none" stroke="#bdbdbd" stroke-width="11.5" stroke-linejoin="round" stroke-linecap="butt"/>
<path d="M1316,852.2 L1372,852.2" fill="none" stroke="#e2e2e2" stroke-width="6.5" stroke-linejoin="round" stroke-linecap="butt"/>
<path d="M1316,852.2 L1372,852.2" fill="none" stroke="#f7f7f7" stroke-width="0.5" stroke-linejoin="round" stroke-linecap="butt"/>
<path d="M1316,852.2 L1372,852.2" fill="none" stroke="#ffffff" stroke-width="-4.5" stroke-linejoin="round" stroke-linecap="butt"/>
<path d="M1362,856 Q1392,854 1392,884 L1392,1662" fill="none" stroke="#8d8d8d" stroke-width="24.5" stroke-linejoin="round" stroke-linecap="butt"/>
<path d="M1362,856 Q1392,854 1392,884 L1392,1662" fill="none" stroke="#bdbdbd" stroke-width="21.5" stroke-linejoin="round" stroke-linecap="butt"/>
<path d="M1362,856 Q1392,854 1392,884 L1392,1662" fill="none" stroke="#e2e2e2" stroke-width="16.5" stroke-linejoin="round" stroke-linecap="butt"/>
<path d="M1362,856 Q1392,854 1392,884 L1392,1662" fill="none" stroke="#f7f7f7" stroke-width="10.5" stroke-linejoin="round" stroke-linecap="butt"/>
<path d="M1362,856 Q1392,854 1392,884 L1392,1662" fill="none" stroke="#ffffff" stroke-width="5.5" stroke-linejoin="round" stroke-linecap="butt"/>
<path d="M1400,1047.4 L1552,1047.4" fill="none" stroke="#8d8d8d" stroke-width="17.5" stroke-linejoin="round" stroke-linecap="butt"/>
<path d="M1400,1047.4 L1552,1047.4" fill="none" stroke="#bdbdbd" stroke-width="14.5" stroke-linejoin="round" stroke-linecap="butt"/>
<path d="M1400,1047.4 L1552,1047.4" fill="none" stroke="#e2e2e2" stroke-width="9.5" stroke-linejoin="round" stroke-linecap="butt"/>
<path d="M1400,1047.4 L1552,1047.4" fill="none" stroke="#f7f7f7" stroke-width="3.5" stroke-linejoin="round" stroke-linecap="butt"/>
<path d="M1400,1047.4 L1552,1047.4" fill="none" stroke="#ffffff" stroke-width="-1.5" stroke-linejoin="round" stroke-linecap="butt"/>
<path d="M1536,1050.5 Q1570.4,1048 1570.4,1082 L1570.4,1541 Q1570.4,1566.5 1545,1566.5 L1400,1566.5" fill="none" stroke="#8d8d8d" stroke-width="24.5" stroke-linejoin="round" stroke-linecap="butt"/>
<path d="M1536,1050.5 Q1570.4,1048 1570.4,1082 L1570.4,1541 Q1570.4,1566.5 1545,1566.5 L1400,1566.5" fill="none" stroke="#bdbdbd" stroke-width="21.5" stroke-linejoin="round" stroke-linecap="butt"/>
<path d="M1536,1050.5 Q1570.4,1048 1570.4,1082 L1570.4,1541 Q1570.4,1566.5 1545,1566.5 L1400,1566.5" fill="none" stroke="#e2e2e2" stroke-width="16.5" stroke-linejoin="round" stroke-linecap="butt"/>
<path d="M1536,1050.5 Q1570.4,1048 1570.4,1082 L1570.4,1541 Q1570.4,1566.5 1545,1566.5 L1400,1566.5" fill="none" stroke="#f7f7f7" stroke-width="10.5" stroke-linejoin="round" stroke-linecap="butt"/>
<path d="M1536,1050.5 Q1570.4,1048 1570.4,1082 L1570.4,1541 Q1570.4,1566.5 1545,1566.5 L1400,1566.5" fill="none" stroke="#ffffff" stroke-width="5.5" stroke-linejoin="round" stroke-linecap="butt"/>
<path d="M1424,1057 L1544,1057 Q1559,1058 1559.5,1078" fill="none" stroke="#161616" stroke-width="3.5"/>
<path d="M1424,1578 L1546,1578 Q1581.5,1577 1582,1541" fill="none" stroke="#161616" stroke-width="3.5"/>
<path d="M1330,859.5 L1366,859.5 Q1381,861 1381.5,880" fill="none" stroke="#4a4a4a" stroke-width="3"/>
<rect x="1377" y="1017" width="30" height="9" rx="3" fill="#d9d9d9" stroke="#9a9a9a" stroke-width="1.5"/>
<rect x="1377" y="1075" width="30" height="9" rx="3" fill="#d9d9d9" stroke="#9a9a9a" stroke-width="1.5"/>
<rect x="1377" y="1548" width="30" height="9" rx="3" fill="#d9d9d9" stroke="#9a9a9a" stroke-width="1.5"/>
<rect x="1377" y="1600" width="30" height="9" rx="3" fill="#d9d9d9" stroke="#9a9a9a" stroke-width="1.5"/>
<rect x="1292.5" y="961.5" width="83.09999999999991" height="26.299999999999955" fill="#6b6b6b"/>
<rect x="1374" y="969.4499999999999" width="44.5" height="10.4" rx="4" fill="#5e5e5e"/>
<rect x="1292.5" y="1202.2" width="83.09999999999991" height="27.0" fill="#6b6b6b"/>
<rect x="1374" y="1210.5" width="44.5" height="10.4" rx="4" fill="#5e5e5e"/>
<rect x="1312.6" y="1397.6" width="63.0" height="27.700000000000045" fill="#6b6b6b"/>
<rect x="1374" y="1406.2499999999998" width="44.5" height="10.4" rx="4" fill="#5e5e5e"/>
<rect x="1312.6" y="1615.9" width="63.0" height="27.699999999999818" fill="#6b6b6b"/>
<rect x="1374" y="1624.55" width="44.5" height="10.4" rx="4" fill="#5e5e5e"/>
<rect x="1292" y="1396" width="5" height="30" fill="#555"/><rect x="1292" y="1615" width="5" height="30" fill="#555"/>
<path d="M1374,1106.3 L1410.6,1106.3 L1410.6,1117.1 C1422,1115.5 1434,1116.5 1440.4,1118.9 L1456.7,1126.2 L1478,1123.5 L1486,1132.5 L1491,1136.9 L1496.5,1136.9 L1496.5,1133.5 L1512,1133.5 L1512,1159.5 L1496.5,1159.5 L1496.5,1156.5 L1491,1156.5 L1486,1160.5 L1478,1169.5 L1456.7,1166.8 L1440.4,1174.1 C1434,1176.5 1422,1177.5 1410.6,1175.9 L1410.6,1186.7 L1374,1186.7 C1365.5,1174.5 1365.5,1118.5 1374,1106.3 Z" fill="#27272a" stroke="#27272a" stroke-width="1.5" stroke-linejoin="round"/>
<rect x="1462" y="1130.5" width="13.7" height="8.3" rx="3" fill="#fff"/>
<rect x="1462" y="1154.2" width="13.7" height="8.3" rx="3" fill="#fff"/>
<circle cx="1483" cy="1126.0" r="6.8" fill="#27272a"/><circle cx="1483" cy="1167.0" r="6.8" fill="#27272a"/>
<ellipse cx="1521.8" cy="1146.5" rx="8" ry="42" fill="#27272a"/>
<ellipse cx="1519.5" cy="1129.5" rx="1.8" ry="11" fill="#8a8a8a" opacity="0.65"/>
<ellipse cx="1519.5" cy="1164.5" rx="1.8" ry="11" fill="#777" opacity="0.6"/>
<ellipse cx="1388" cy="1146.5" rx="10" ry="30" fill="#323234"/>
<path d="M1374,1438.3 L1410.6,1438.3 L1410.6,1449.1 C1422,1447.5 1434,1448.5 1440.4,1450.9 L1456.7,1458.2 L1478,1455.5 L1486,1464.5 L1491,1468.9 L1496.5,1468.9 L1496.5,1465.5 L1512,1465.5 L1512,1491.5 L1496.5,1491.5 L1496.5,1488.5 L1491,1488.5 L1486,1492.5 L1478,1501.5 L1456.7,1498.8 L1440.4,1506.1 C1434,1508.5 1422,1509.5 1410.6,1507.9 L1410.6,1518.7 L1374,1518.7 C1365.5,1506.5 1365.5,1450.5 1374,1438.3 Z" fill="#27272a" stroke="#27272a" stroke-width="1.5" stroke-linejoin="round"/>
<rect x="1462" y="1462.5" width="13.7" height="8.3" rx="3" fill="#fff"/>
<rect x="1462" y="1486.2" width="13.7" height="8.3" rx="3" fill="#fff"/>
<circle cx="1483" cy="1458.0" r="6.8" fill="#27272a"/><circle cx="1483" cy="1499.0" r="6.8" fill="#27272a"/>
<ellipse cx="1521.8" cy="1478.5" rx="8" ry="42" fill="#27272a"/>
<ellipse cx="1519.5" cy="1461.5" rx="1.8" ry="11" fill="#8a8a8a" opacity="0.65"/>
<ellipse cx="1519.5" cy="1496.5" rx="1.8" ry="11" fill="#777" opacity="0.6"/>
<ellipse cx="1388" cy="1478.5" rx="10" ry="30" fill="#323234"/>
<path d="M1552.4,1273.3 L1589.0,1273.3 L1589.0,1284.1 C1600.4,1282.5 1612.4,1283.5 1618.8000000000002,1285.9 L1635.1000000000001,1293.2 L1656.4,1290.5 L1664.4,1299.5 L1669.4,1303.9 L1674.9,1303.9 L1674.9,1300.5 L1690.4,1300.5 L1690.4,1326.5 L1674.9,1326.5 L1674.9,1323.5 L1669.4,1323.5 L1664.4,1327.5 L1656.4,1336.5 L1635.1000000000001,1333.8 L1618.8000000000002,1341.1 C1612.4,1343.5 1600.4,1344.5 1589.0,1342.9 L1589.0,1353.7 L1552.4,1353.7 C1543.9,1341.5 1543.9,1285.5 1552.4,1273.3 Z" fill="#27272a" stroke="#27272a" stroke-width="1.5" stroke-linejoin="round"/>
<rect x="1640.4" y="1297.5" width="13.7" height="8.3" rx="3" fill="#fff"/>
<rect x="1640.4" y="1321.2" width="13.7" height="8.3" rx="3" fill="#fff"/>
<circle cx="1661.4" cy="1293.0" r="6.8" fill="#27272a"/><circle cx="1661.4" cy="1334.0" r="6.8" fill="#27272a"/>
<ellipse cx="1700.2" cy="1313.5" rx="8" ry="42" fill="#27272a"/>
<ellipse cx="1697.9" cy="1296.5" rx="1.8" ry="11" fill="#8a8a8a" opacity="0.65"/>
<ellipse cx="1697.9" cy="1331.5" rx="1.8" ry="11" fill="#777" opacity="0.6"/>
<ellipse cx="1566.4" cy="1313.5" rx="10" ry="30" fill="#323234"/>
<path d="M1376,1243 L1410,1243 L1410,1260 L1376,1260 Z" fill="#cfcfcf" stroke="#9d9d9d" stroke-width="1.5"/>
<path d="M1376,1367 L1410,1367 L1410,1390 L1376,1390 Z" fill="#d4d4d4" stroke="#a5a5a5" stroke-width="1.5"/>
<path d="M1324,1287 L1325,1271 L1336,1268 L1337,1263.5 L1361,1263.5 L1363,1276 Q1386,1268 1402,1279 Q1413.5,1290 1413,1318 Q1413.5,1344 1404,1352 Q1380,1365 1344,1363.5 Q1322,1361 1316,1344 Q1313,1310 1314.5,1292 Q1316,1287 1324,1287 Z" fill="url(#gTrapV)" stroke="#8f8f8f" stroke-width="1.6"/>
<path d="M1337,1265 L1361,1265 L1361,1272 L1337,1272 Z" fill="#e9e9e9" stroke="#777" stroke-width="1.2"/>
<path d="M1316,1292 Q1314,1320 1318,1345" fill="none" stroke="#808080" stroke-width="3" opacity="0.8"/>
<path d="M1326,1350 Q1340,1342 1360,1348 L1362,1358 Q1342,1362 1328,1358 Z" fill="#dcdcdc" opacity="0.85"/>
<rect x="1335" y="1364" width="26" height="13.5" rx="1.5" fill="#111"/>
<rect x="1303.2" y="1337" width="4.6" height="494" fill="#b5283f"/>
<rect x="1710.2" y="1337" width="4.6" height="494" fill="#b5283f"/>
<rect x="1311" y="1703.5" width="395" height="126.3" fill="#1167ea"/>
<text x="1507" y="1783" text-anchor="middle" font-family="Liberation Sans, Noto Sans CJK SC, sans-serif" font-size="54" fill="#f4f9ff" stroke="#fff6f2" stroke-width="1.1" stroke-linejoin="round">安装空间小</text>
<text x="1496.5" y="1929" text-anchor="middle" font-family="Liberation Sans, Noto Sans CJK SC, sans-serif" font-size="50" fill="#151515" stroke="#151515" stroke-width="0.7" stroke-linejoin="round">垂直安装</text>
<path d="M1995.5,1560 L1995.5,1417 Q1995.5,1392.5 2020,1392.5 L2499,1392.5 Q2523.6,1392.5 2523.6,1417 L2523.6,1560" fill="none" stroke="#8d8d8d" stroke-width="24.5" stroke-linejoin="round" stroke-linecap="butt"/>
<path d="M1995.5,1560 L1995.5,1417 Q1995.5,1392.5 2020,1392.5 L2499,1392.5 Q2523.6,1392.5 2523.6,1417 L2523.6,1560" fill="none" stroke="#bdbdbd" stroke-width="21.5" stroke-linejoin="round" stroke-linecap="butt"/>
<path d="M1995.5,1560 L1995.5,1417 Q1995.5,1392.5 2020,1392.5 L2499,1392.5 Q2523.6,1392.5 2523.6,1417 L2523.6,1560" fill="none" stroke="#e2e2e2" stroke-width="16.5" stroke-linejoin="round" stroke-linecap="butt"/>
<path d="M1995.5,1560 L1995.5,1417 Q1995.5,1392.5 2020,1392.5 L2499,1392.5 Q2523.6,1392.5 2523.6,1417 L2523.6,1560" fill="none" stroke="#f7f7f7" stroke-width="10.5" stroke-linejoin="round" stroke-linecap="butt"/>
<path d="M1995.5,1560 L1995.5,1417 Q1995.5,1392.5 2020,1392.5 L2499,1392.5 Q2523.6,1392.5 2523.6,1417 L2523.6,1560" fill="none" stroke="#ffffff" stroke-width="5.5" stroke-linejoin="round" stroke-linecap="butt"/>
<path d="M1985,1556 L1985,1424 Q1985,1412 1990,1404" fill="none" stroke="#3a3a3a" stroke-width="3.6"/>
<path d="M2010,1424 Q2010,1404.5 2024,1404.5 L2498,1404.5 Q2511.5,1404.5 2511.5,1418 L2511.5,1556" fill="none" stroke="#2b2b2b" stroke-width="3.4" filter="url(#soft)"/>
<rect x="1978.5" y="1533" width="34" height="26" rx="4" fill="#e3e3e3" stroke="#9b9b9b" stroke-width="1.5"/>
<rect x="2506.6" y="1533" width="34" height="26" rx="4" fill="#e3e3e3" stroke="#9b9b9b" stroke-width="1.5"/>
<rect x="1921.6" y="1544" width="12.700000000000045" height="46" rx="4" fill="#6d6d6d"/>
<rect x="1914" y="1586" width="30.59999999999991" height="81" fill="#6d6d6d"/>
<rect x="2157.4" y="1544" width="11.5" height="46" rx="4" fill="#6d6d6d"/>
<rect x="2146.7" y="1586" width="33.0" height="81" fill="#6d6d6d"/>
<rect x="2356" y="1544" width="11.5" height="46" rx="4" fill="#6d6d6d"/>
<rect x="2345.3" y="1586" width="33.69999999999982" height="81" fill="#6d6d6d"/>
<rect x="2576" y="1544" width="11.699999999999818" height="46" rx="4" fill="#6d6d6d"/>
<rect x="2569.6" y="1586" width="28.800000000000182" height="81" fill="#6d6d6d"/>
<path d="M2224.1,1377.5 Q2224.1,1373.5 2228.5,1373.5 L2239.5,1373.5 C2234.5,1361.5 2233.5,1347.5 2241.5,1333.5 L2241.9,1328.5 L2241.9,1309.5 L2246.5,1303.5 L2253.0,1298.5 L2253.0,1272.5 L2278.0,1272.5 L2278.0,1298.5 L2284.5,1303.5 L2289.1,1309.5 L2289.1,1328.5 L2289.5,1333.5 C2297.5,1347.5 2296.5,1361.5 2291.5,1373.5 L2302.5,1373.5 Q2306.9,1373.5 2306.9,1377.5 L2306.9,1407.3 Q2293.5,1408.5 2285.5,1412.5 Q2265.5,1419.0 2245.5,1412.5 Q2237.5,1408.5 2224.1,1407.3 Z" fill="#27272a" stroke="#27272a" stroke-width="1.5" stroke-linejoin="round"/>
<rect x="2248.5" y="1311.8" width="6.8" height="10.2" rx="2" fill="#fff"/><rect x="2274.0" y="1311.8" width="6.8" height="10.2" rx="2" fill="#fff"/>
<circle cx="2244.5" cy="1302.0" r="6.4" fill="#27272a"/><circle cx="2286.5" cy="1302.0" r="6.4" fill="#27272a"/>
<path d="M2221.5,1261.0 Q2225.5,1259.5 2229.5,1261.5 Q2243.5,1264.5 2251.5,1260.0 L2279.5,1260.0 Q2287.5,1264.5 2301.5,1261.5 Q2305.5,1259.5 2309.5,1261.0 L2307.5,1269.0 Q2291.5,1272.5 2278.5,1274.5 L2252.5,1274.5 Q2239.5,1272.5 2223.5,1269.0 Z" fill="#27272a"/>
<ellipse cx="2260.5" cy="1350.5" rx="13" ry="13" fill="#323234"/>
<path d="M2053.1,1553.5 Q2053.1,1549.5 2057.5,1549.5 L2068.5,1549.5 C2063.5,1537.5 2062.5,1523.5 2070.5,1509.5 L2070.9,1504.5 L2070.9,1485.5 L2075.5,1479.5 L2082.0,1474.5 L2082.0,1446 L2107.0,1446 L2107.0,1474.5 L2113.5,1479.5 L2118.1,1485.5 L2118.1,1504.5 L2118.5,1509.5 C2126.5,1523.5 2125.5,1537.5 2120.5,1549.5 L2131.5,1549.5 Q2135.9,1549.5 2135.9,1553.5 L2135.9,1583.3 Q2122.5,1584.5 2114.5,1588.5 Q2094.5,1595.0 2074.5,1588.5 Q2066.5,1584.5 2053.1,1583.3 Z" fill="#27272a" stroke="#27272a" stroke-width="1.5" stroke-linejoin="round"/>
<rect x="2077.5" y="1487.8" width="6.8" height="10.2" rx="2" fill="#fff"/><rect x="2103.0" y="1487.8" width="6.8" height="10.2" rx="2" fill="#fff"/>
<circle cx="2073.5" cy="1478.0" r="6.4" fill="#27272a"/><circle cx="2115.5" cy="1478.0" r="6.4" fill="#27272a"/>
<path d="M2050.5,1434.5 Q2054.5,1433 2058.5,1435 Q2072.5,1438 2080.5,1433.5 L2108.5,1433.5 Q2116.5,1438 2130.5,1435 Q2134.5,1433 2138.5,1434.5 L2136.5,1442.5 Q2120.5,1446 2107.5,1448 L2081.5,1448 Q2068.5,1446 2052.5,1442.5 Z" fill="#27272a"/>
<ellipse cx="2089.5" cy="1526.5" rx="13" ry="13" fill="#323234"/>
<path d="M2390.6,1553.5 Q2390.6,1549.5 2395,1549.5 L2406,1549.5 C2401,1537.5 2400,1523.5 2408,1509.5 L2408.4,1504.5 L2408.4,1485.5 L2413,1479.5 L2419.5,1474.5 L2419.5,1446 L2444.5,1446 L2444.5,1474.5 L2451,1479.5 L2455.6,1485.5 L2455.6,1504.5 L2456,1509.5 C2464,1523.5 2463,1537.5 2458,1549.5 L2469,1549.5 Q2473.4,1549.5 2473.4,1553.5 L2473.4,1583.3 Q2460,1584.5 2452,1588.5 Q2432,1595.0 2412,1588.5 Q2404,1584.5 2390.6,1583.3 Z" fill="#27272a" stroke="#27272a" stroke-width="1.5" stroke-linejoin="round"/>
<rect x="2415" y="1487.8" width="6.8" height="10.2" rx="2" fill="#fff"/><rect x="2440.5" y="1487.8" width="6.8" height="10.2" rx="2" fill="#fff"/>
<circle cx="2411" cy="1478.0" r="6.4" fill="#27272a"/><circle cx="2453" cy="1478.0" r="6.4" fill="#27272a"/>
<path d="M2388,1434.5 Q2392,1433 2396,1435 Q2410,1438 2418,1433.5 L2446,1433.5 Q2454,1438 2468,1435 Q2472,1433 2476,1434.5 L2474,1442.5 Q2458,1446 2445,1448 L2419,1448 Q2406,1446 2390,1442.5 Z" fill="#27272a"/>
<ellipse cx="2427" cy="1526.5" rx="13" ry="13" fill="#323234"/>
<path d="M2183,1552 L2222,1558 L2222,1592 L2183,1580 Z" fill="#c9c9c9"/>
<rect x="2312" y="1555" width="24" height="26" rx="3" fill="#a9a9a9"/>
<path d="M2221,1596 Q2221,1548 2266.5,1548 Q2312,1548 2312,1596 L2312,1600 L2324,1601 L2324,1619 L2309,1620 L2306,1645 L2229,1645 L2226,1620 L2206,1619 L2206,1601 L2221,1600 Z" fill="url(#gTrap2)"/>
<path d="M2232,1645 L2232,1624 L2248,1624 L2256,1645 Z" fill="#808080"/><path d="M2303,1645 L2303,1624 L2287,1624 L2279,1645 Z" fill="#808080"/>
<rect x="2206" y="1600" width="6" height="19" fill="#3c3c3c"/><rect x="2221" y="1596" width="91" height="5" fill="#9a9a9a" opacity="0.6"/>
<rect x="1952.3" y="1607" width="4.8" height="224" fill="#c01f2c"/>
<rect x="2560.2" y="1607" width="4.8" height="224" fill="#c01f2c"/>
<rect x="1959.5" y="1703.5" width="599.5" height="126.5" fill="#d30808"/>
<text x="2256.5" y="1784" text-anchor="middle" font-family="Liberation Sans, Noto Sans CJK SC, sans-serif" font-size="54" fill="#fff3ee" stroke="#fff6f2" stroke-width="1.1" stroke-linejoin="round">需要较大的安装空间</text>
<text x="2244" y="1930" text-anchor="middle" font-family="Liberation Sans, Noto Sans CJK SC, sans-serif" font-size="50" fill="#151515" stroke="#151515" stroke-width="0.7" stroke-linejoin="round">水平安装</text>
<path d="M1771,1146.5 L2185,1146.5 Q2202,1146.5 2202,1163.5 L2202,1280 Q2202,1297 2185,1297 L1954,1297 L1928,1527 L1902.5,1297 L1771,1297 Q1754,1297 1754,1280 L1754,1163.5 Q1754,1146.5 1771,1146.5 Z" fill="#1167ea"/>
<text x="1975" y="1210" text-anchor="middle" font-family="Liberation Sans, Noto Sans CJK SC, sans-serif" font-size="54" fill="#f4f9ff" stroke="#fff6f2" stroke-width="1.1" stroke-linejoin="round">可以牢固的固定</text>
<text x="1975.5" y="1275" text-anchor="middle" font-family="Liberation Sans, Noto Sans CJK SC, sans-serif" font-size="54" fill="#f4f9ff" stroke="#fff6f2" stroke-width="1.1" stroke-linejoin="round">在地面上</text>
<path d="M1007,686 L1413,686 Q1425,686 1425,698 L1425,825 Q1425,837 1413,837 L1211,837 L1282,957.5 L1139,837 L1007,837 Q995,837 995,825 L995,698 Q995,686 1007,686 Z" fill="#d30808" stroke="#fff" stroke-width="9" stroke-linejoin="round"/>
<path d="M1007,686 L1413,686 Q1425,686 1425,698 L1425,825 Q1425,837 1413,837 L1211,837 L1282,957.5 L1139,837 L1007,837 Q995,837 995,825 L995,698 Q995,686 1007,686 Z" fill="#d30808"/>
<text x="1211.5" y="750" text-anchor="middle" font-family="Liberation Sans, Noto Sans CJK SC, sans-serif" font-size="54" fill="#fff3ee" stroke="#fff6f2" stroke-width="1.1" stroke-linejoin="round" textLength="345" lengthAdjust="spacing">需要安装管柱/</text>
<text x="1210.5" y="815" text-anchor="middle" font-family="Liberation Sans, Noto Sans CJK SC, sans-serif" font-size="54" fill="#fff3ee" stroke="#fff6f2" stroke-width="1.1" stroke-linejoin="round" textLength="131" lengthAdjust="spacing">墙/架</text>
<rect x="2342" y="924" width="54" height="53" fill="#1167ea"/>
<rect x="2342" y="999" width="54" height="53" fill="#d30808"/>
<text x="2410" y="971" font-family="Liberation Sans, Noto Sans CJK SC, sans-serif" font-size="46" fill="#151515" stroke="#151515" stroke-width="0.7" stroke-linejoin="round">优点</text>
<text x="2410" y="1044" font-family="Liberation Sans, Noto Sans CJK SC, sans-serif" font-size="46" fill="#151515" stroke="#151515" stroke-width="0.7" stroke-linejoin="round">缺点</text>
<text x="2405" y="1977" font-family="Liberation Sans, Noto Sans CJK SC, sans-serif" font-size="49" font-weight="700" fill="#ebebee">百度</text>
<rect x="2522.5" y="1935" width="130" height="44.5" rx="10" fill="#ececef"/>
<text x="2535" y="1970.5" font-family="Liberation Sans, Noto Sans CJK SC, sans-serif" font-size="34" font-weight="700" fill="#ffffff" textLength="103" lengthAdjust="spacingAndGlyphs">AI生成</text>
</g>
</svg>
</body></html>
